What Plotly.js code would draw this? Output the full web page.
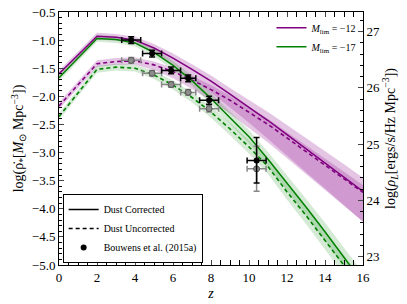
<!DOCTYPE html>
<html><head><meta charset="utf-8">
<script src="https://cdn.plot.ly/plotly-3.0.1.min.js"></script>
<style>html,body{margin:0;padding:0;background:#fff;overflow:hidden}#c{width:407px;height:304px}</style>
</head><body><div id="c"></div>
<script>
// redshift grid
const z = [0,2,3,4,5,6,7,8,9,10,11,12,13,14,15,16];
// M_lim = -12, dust corrected
const m12Corr   = [-1.60,-0.93,-0.95,-1.00,-1.14,-1.32,-1.52,-1.73,-1.96,-2.19,-2.43,-2.68,-2.93,-3.18,-3.43,-3.69];
const m12CorrHi = [-1.54,-0.87,-0.89,-0.94,-1.07,-1.24,-1.43,-1.63,-1.85,-2.06,-2.28,-2.51,-2.74,-2.97,-3.21,-3.45];
const m12CorrLo = [-1.66,-0.99,-1.01,-1.07,-1.23,-1.44,-1.68,-1.93,-2.20,-2.47,-2.76,-3.06,-3.35,-3.64,-3.93,-4.23];
// M_lim = -12, dust uncorrected
const m12Unc    = [-2.17,-1.42,-1.38,-1.37,-1.44,-1.56,-1.71,-1.88,-2.07,-2.28,-2.50,-2.74,-2.98,-3.22,-3.46,-3.71];
const m12UncHi  = [-2.11,-1.36,-1.32,-1.31,-1.38,-1.49,-1.64,-1.80,-1.99,-2.19,-2.40,-2.64,-2.87,-3.10,-3.34,-3.58];
const m12UncLo  = [-2.23,-1.48,-1.44,-1.44,-1.53,-1.68,-1.87,-2.08,-2.31,-2.56,-2.82,-3.10,-3.38,-3.66,-3.94,-4.23];
// M_lim = -17, dust corrected
const m17Corr   = [-1.67,-0.97,-0.99,-1.05,-1.22,-1.45,-1.72,-2.04,-2.38,-2.72,-3.12,-3.54,-3.97,-4.41,-4.86,-5.32];
const m17CorrHi = [-1.61,-0.91,-0.93,-0.99,-1.15,-1.37,-1.63,-1.94,-2.27,-2.60,-2.99,-3.40,-3.82,-4.25,-4.69,-5.14];
const m17CorrLo = [-1.73,-1.03,-1.05,-1.11,-1.29,-1.53,-1.81,-2.14,-2.49,-2.84,-3.25,-3.68,-4.12,-4.57,-5.03,-5.50];
// M_lim = -17, dust uncorrected
const m17Unc    = [-2.36,-1.52,-1.48,-1.50,-1.62,-1.80,-2.02,-2.28,-2.58,-2.90,-3.25,-3.70,-4.12,-4.55,-5.00,-5.45];
const m17UncHi  = [-2.30,-1.46,-1.42,-1.44,-1.55,-1.72,-1.93,-2.18,-2.47,-2.78,-3.12,-3.56,-3.97,-4.39,-4.83,-5.27];
const m17UncLo  = [-2.42,-1.58,-1.54,-1.56,-1.69,-1.88,-2.11,-2.38,-2.69,-3.02,-3.38,-3.84,-4.27,-4.71,-5.17,-5.63];
// Bouwens et al. (2015a)
const bZ      = [3.8, 4.9, 5.9, 6.8, 7.9, 10.4];
const bZerr   = [0.5, 0.5, 0.5, 0.4, 0.5, 0.5];
const bCorr   = [-1.00,-1.24,-1.54,-1.68,-2.07,-3.14];
const bCorrUp = [0.06, 0.06, 0.06, 0.06, 0.07, 0.41];
const bCorrDn = [0.06, 0.06, 0.06, 0.06, 0.07, 0.40];
const bUnc    = [-1.36,-1.59,-1.79,-1.93,-2.22,-3.29];
const bUncUp  = [0.05, 0.05, 0.05, 0.05, 0.06, 0.40];
const bUncDn  = [0.05, 0.05, 0.05, 0.05, 0.06, 0.40];
const xTicks = [0,2,4,6,8,10,12,14,16];
const yTicks = [-5,-4.5,-4,-3.5,-3,-2.5,-2,-1.5,-1,-0.5];
const y2Ticks = [23,24,25,26,27];
const LUM_OFFSET = 27.85; // log rho_L = log rho_SFR + offset

const PURPLE = '#800080', GREEN = '#008000';
const PFILL = 'rgba(150,30,150,0.26)', GFILL = 'rgba(0,128,0,0.17)';
const FONT = 'Liberation Serif';

function band(hi, lo, fill){
  return [
    {x:z, y:lo, mode:'lines', line:{width:0}, showlegend:false, hoverinfo:'skip'},
    {x:z, y:hi, mode:'lines', line:{width:0}, fill:'tonexty', fillcolor:fill, showlegend:false, hoverinfo:'skip'}
  ];
}
const traces = [];
traces.push(...band(m12CorrHi, m12CorrLo, PFILL));
traces.push(...band(m12UncHi, m12UncLo, PFILL));
traces.push(...band(m17CorrHi, m17CorrLo, GFILL));
traces.push(...band(m17UncHi, m17UncLo, GFILL));
traces.push({x:z, y:m12Unc, mode:'lines', line:{color:PURPLE, width:1.6, dash:'4px,3px'}, showlegend:false});
traces.push({x:z, y:m17Unc, mode:'lines', line:{color:GREEN, width:1.6, dash:'4px,3px'}, showlegend:false});
traces.push({x:z, y:m12Corr, mode:'lines', line:{color:PURPLE, width:1.5}, name:'<i>M</i><sub>lim</sub> = −12', legend:'legend'});
traces.push({x:z, y:m17Corr, mode:'lines', line:{color:GREEN, width:1.5}, name:'<i>M</i><sub>lim</sub> = −17', legend:'legend'});
traces.push({x:bZ, y:bUnc, mode:'markers', marker:{color:'#8c8c8c', size:6, line:{color:'#555', width:1}},
  error_y:{type:'data', symmetric:false, array:bUncUp, arrayminus:bUncDn, color:'#888', thickness:1.5, width:3},
  error_x:{type:'data', array:bZerr, color:'#888', thickness:1.5, width:3}, showlegend:false});
traces.push({x:bZ, y:bCorr, mode:'markers', marker:{color:'#000', size:6},
  error_y:{type:'data', symmetric:false, array:bCorrUp, arrayminus:bCorrDn, color:'#000', thickness:1.5, width:3},
  error_x:{type:'data', array:bZerr, color:'#000', thickness:1.5, width:3}, showlegend:false});
// legend-only entries
traces.push({x:[null], y:[null], mode:'lines', line:{color:'#000', width:1.6}, name:'Dust Corrected', legend:'legend2'});
traces.push({x:[null], y:[null], mode:'lines', line:{color:'#000', width:1.6, dash:'4px,3px'}, name:'Dust Uncorrected', legend:'legend2'});
traces.push({x:[null], y:[null], mode:'markers', marker:{color:'#000', size:6, symbol:'circle'}, name:'Bouwens et al. (2015a)', legend:'legend2'});
// right axis carrier
traces.push({x:[null], y:[null], yaxis:'y2', mode:'lines', showlegend:false, hoverinfo:'skip'});

const yRange = [-5, -0.5];
const layout = {
  width:407, height:304,
  margin:{l:59, r:44, t:12, b:39, autoexpand:false},
  paper_bgcolor:'#fff', plot_bgcolor:'#fff',
  font:{family:FONT, size:12, color:'#000'},
  showlegend:true,
  xaxis:{range:[0,16], tickvals:xTicks, ticktext:xTicks.map(String), ticks:'inside', ticklen:5, tickwidth:1,
    automargin:false,
    showline:true, linecolor:'#000', linewidth:1, mirror:'allticks', showgrid:false, zeroline:false,
    tickfont:{size:13, family:FONT},
    minor:{dtick:0.5, ticks:'inside', ticklen:3, tickcolor:'#000', showgrid:false},
    title:{text:'<i>z</i>', font:{size:14, family:FONT}, standoff:4}},
  yaxis:{range:yRange, tickvals:yTicks, ticktext:yTicks.map(v=>v.toFixed(1).replace('-','−')), ticks:'inside', ticklen:5,
    automargin:false,
    showline:true, linecolor:'#000', linewidth:1, showgrid:false, zeroline:false,
    tickfont:{size:13, family:FONT},
    minor:{dtick:0.1, ticks:'inside', ticklen:3, tickcolor:'#000', showgrid:false},
    title:{text:'log(ρ̇<sub>*</sub>[<i>M</i><sub>⊙</sub> Mpc<sup>−3</sup>])', font:{size:14, family:FONT}, standoff:4}},
  yaxis2:{overlaying:'y', side:'right', anchor:'x', range:[yRange[0]+LUM_OFFSET, yRange[1]+LUM_OFFSET],
    automargin:false,
    tickvals:y2Ticks, ticktext:y2Ticks.map(String), ticks:'inside', ticklen:5,
    showline:true, linecolor:'#000', linewidth:1, showgrid:false, zeroline:false,
    tickfont:{size:13, family:FONT},
    minor:{dtick:0.2, ticks:'inside', ticklen:3, tickcolor:'#000', showgrid:false},
    title:{text:'log(<i>ρ</i><sub><i>L</i></sub>[ergs/s/Hz Mpc<sup>−3</sup>])', font:{size:14, family:FONT}, standoff:4}},
  legend:{x:0.995, y:0.995, xanchor:'right', yanchor:'top', bgcolor:'rgba(0,0,0,0)', borderwidth:0,
    traceorder:'normal', font:{size:10, family:FONT}, tracegroupgap:0, itemwidth:30},
  legend2:{x:0.012, y:0.008, xanchor:'left', yanchor:'bottom', bgcolor:'#fff', bordercolor:'#000', borderwidth:1,
    traceorder:'normal', font:{size:10, family:FONT}, tracegroupgap:0, itemwidth:30}
};
Plotly.newPlot('c', traces, layout, {displayModeBar:false, staticPlot:true});
</script></body></html>
